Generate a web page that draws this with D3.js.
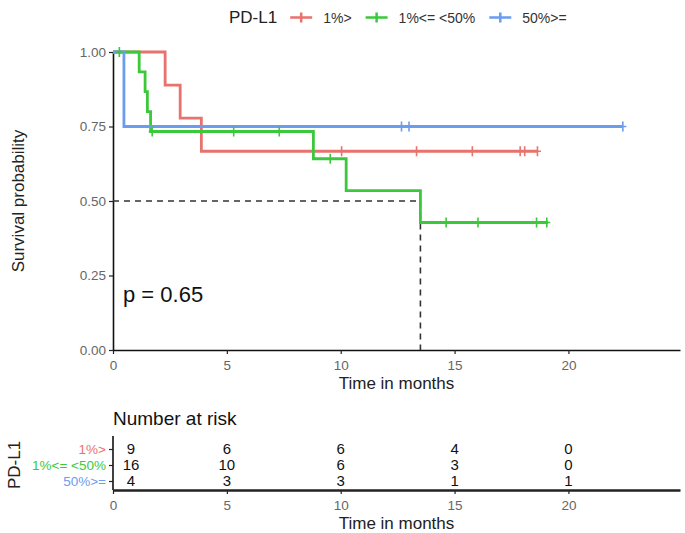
<!DOCTYPE html>
<html><head><meta charset="utf-8">
<script src="https://cdn.jsdelivr.net/npm/d3@7/dist/d3.min.js"></script>
<style>
body{margin:0;background:#fff}
text{font-family:"Liberation Sans",Arial,sans-serif}
</style>
</head><body>
<svg id="c" width="685" height="533"></svg>
<script>
// ---- data ----
const groups = ["1%>", "1%<= <50%", "50%>="];
const groupColors = ["#E8726D", "#3CC83C", "#6A9CF0"];

const redTimes  = [0, 2.29, 2.95, 3.88];
const redSurv   = [1, 0.889, 0.778, 0.667];
const redCensor = [10.04, 13.33, 15.78, 17.88, 18.08, 18.64];
const redEnd = 18.64;

const greenTimes  = [0, 1.15, 1.41, 1.51, 1.65, 8.8, 10.24, 13.5];
const greenSurv   = [1, 0.9333, 0.8667, 0.8, 0.7333, 0.6417, 0.5347, 0.4278];
const greenCensor = [0.28, 1.72, 5.3, 7.3, 9.54, 14.63, 16.03, 18.6, 19.05];
const greenEnd = 19.1;

const blueTimes  = [0, 0.48];
const blueSurv   = [1, 0.75];
const blueCensor = [12.67, 13.0, 22.39];
const blueEnd = 22.39;

const xTicks = [0, 5, 10, 15, 20];
const yTicks = [0, 0.25, 0.5, 0.75, 1];
const riskTimes = [0, 5, 10, 15, 20];
const riskRed   = [9, 6, 6, 4, 0];
const riskGreen = [16, 10, 6, 3, 0];
const riskBlue  = [4, 3, 3, 1, 1];
const pLabel = "p = 0.65";
const medianTime = 13.5;
const medianSurv = 0.5;

// ---- build ----
const series = [
  {name: groups[0], color: groupColors[0], t: redTimes, s: redSurv, c: redCensor, end: redEnd, risk: riskRed},
  {name: groups[1], color: groupColors[1], t: greenTimes, s: greenSurv, c: greenCensor, end: greenEnd, risk: riskGreen},
  {name: groups[2], color: groupColors[2], t: blueTimes, s: blueSurv, c: blueCensor, end: blueEnd, risk: riskBlue}
];

const svg = d3.select("#c");
svg.append("rect").attr("width", 685).attr("height", 533).attr("fill", "#fff");

const x = d3.scaleLinear().domain([0, 24.9]).range([113, 680]);
const y = d3.scaleLinear().domain([0, 1]).range([350, 52]);

// axes main
const gx = svg.append("g").attr("transform", "translate(0,350)")
  .call(d3.axisBottom(x).tickValues(xTicks).tickFormat(d3.format("d")).tickSize(4).tickSizeOuter(0));
const gy = svg.append("g").attr("transform", "translate(113,0)")
  .call(d3.axisLeft(y).tickValues(yTicks).tickFormat(d3.format(".2f")).tickSize(4).tickSizeOuter(0));
[gx, gy].forEach(g => {
  g.select(".domain").attr("stroke", "#111").attr("stroke-width", 1.6);
  g.selectAll(".tick line").attr("stroke", "#222").attr("stroke-width", 1.2);
  g.selectAll(".tick text").attr("fill", "#666").style("font-size", "13.5px").style("font-family", "'Liberation Sans',Arial,sans-serif");
});
gx.selectAll(".tick text").attr("dy", "0.95em");

svg.append("text").attr("x", (113 + 680) / 2).attr("y", 389).attr("text-anchor", "middle")
  .style("font-size", "17px").attr("fill", "#222").text("Time in months");
svg.append("text").attr("transform", "translate(24,201) rotate(-90)").attr("text-anchor", "middle")
  .style("font-size", "17px").attr("fill", "#222").text("Survival probability");

// median lines
svg.append("path")
  .attr("d", `M${x(0)},${y(medianSurv)}H${x(medianTime)}V${y(0)}`)
  .attr("fill", "none").attr("stroke", "#333").attr("stroke-width", 1.6).attr("stroke-dasharray", "6,5");

// curves
const line = d3.line().x(d => x(d[0])).y(d => y(d[1])).curve(d3.curveStepAfter);
function survAt(sr, t) {
  let v = sr.s[0];
  for (let i = 0; i < sr.t.length; i++) if (sr.t[i] <= t) v = sr.s[i];
  return v;
}
series.forEach(sr => {
  const pts = sr.t.map((t, i) => [t, sr.s[i]]);
  pts.push([sr.end, sr.s[sr.s.length - 1]]);
  svg.append("path").attr("d", line(pts)).attr("fill", "none")
    .attr("stroke", sr.color).attr("stroke-width", 2.8);
});
series.forEach(sr => {
  const g = svg.append("g").attr("stroke", sr.color).attr("stroke-width", 1.6);
  sr.c.forEach(ct => {
    const cx = x(ct), cy = y(survAt(sr, ct));
    g.append("path").attr("d", `M${cx},${cy - 5}V${cy + 5}M${cx - 3.5},${cy}H${cx + 3.5}`);
  });
});

// p value
svg.append("text").attr("x", 123).attr("y", 302).style("font-size", "22px").attr("fill", "#111").text(pLabel);

// legend
const lg = svg.append("g");
let lx = 229;
const lt = lg.append("text").attr("x", lx).attr("y", 23).style("font-size", "17px").attr("fill", "#222").text("PD-L1");
lx += lt.node().getComputedTextLength() + 13;
series.forEach(sr => {
  lg.append("path").attr("d", `M${lx},17.5H${lx + 22}M${lx + 11},12.5V22.5`)
    .attr("stroke", sr.color).attr("stroke-width", 2.5).attr("fill", "none");
  lx += 22 + 11;
  const t = lg.append("text").attr("x", lx).attr("y", 22.5).style("font-size", "14px").attr("fill", "#333").text(sr.name);
  lx += t.node().getComputedTextLength() + 14;
});

// risk table
svg.append("text").attr("x", 113).attr("y", 425).style("font-size", "19px").attr("fill", "#111").text("Number at risk");
const ry = d3.scalePoint().domain(groups).range([441, 489]).padding(0.5);
const rgx = svg.append("g").attr("transform", "translate(0,490)")
  .call(d3.axisBottom(x).tickValues(xTicks).tickFormat(d3.format("d")).tickSize(4).tickSizeOuter(0));
const rgy = svg.append("g").attr("transform", "translate(113,0)")
  .call(d3.axisLeft(ry).tickSize(4).tickSizeOuter(0));
rgx.select(".domain").attr("stroke", "#222").attr("stroke-width", 2.4);
rgy.select(".domain").attr("stroke", "#111").attr("stroke-width", 1.6)
  .attr("d", "M-0,436V490");
[rgx, rgy].forEach(g => {
  g.selectAll(".tick line").attr("stroke", "#222").attr("stroke-width", 1.2);
  g.selectAll(".tick text").style("font-size", "13.5px").style("font-family", "'Liberation Sans',Arial,sans-serif");
});
rgx.selectAll(".tick text").attr("fill", "#666").attr("dy", "0.95em");
rgy.selectAll(".tick text").attr("fill", (d, i) => groupColors[i]);

svg.append("text").attr("x", (113 + 680) / 2).attr("y", 529).attr("text-anchor", "middle")
  .style("font-size", "17px").attr("fill", "#222").text("Time in months");
svg.append("text").attr("transform", "translate(20,465) rotate(-90)").attr("text-anchor", "middle")
  .style("font-size", "17px").attr("fill", "#222").text("PD-L1");

series.forEach(sr => {
  sr.risk.forEach((v, i) => {
    const px = Math.max(x(riskTimes[i]), x(0) + 18);
    svg.append("text").attr("x", px).attr("y", ry(sr.name)).attr("dy", "0.36em")
      .attr("text-anchor", "middle").style("font-size", "15px").attr("fill", "#111").text(v);
  });
});
</script>
</body></html>
